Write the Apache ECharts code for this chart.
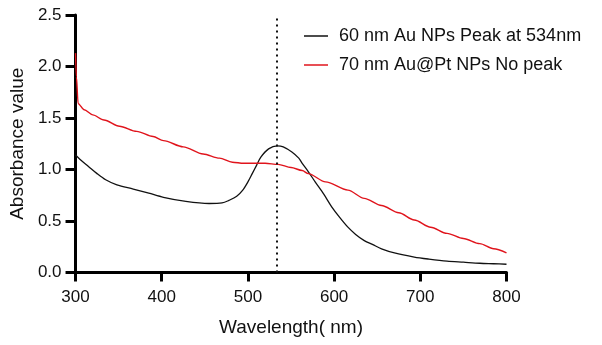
<!DOCTYPE html>
<html><head><meta charset="utf-8">
<script src="https://cdn.jsdelivr.net/npm/echarts@6/dist/echarts.min.js"></script>
<style>html,body{margin:0;padding:0;background:#fff}#c{width:602px;height:345px}</style>
</head><body><div id="c"></div>
<script>
const auX = [300,305,315,325,335,348,367,385,402,428,455,470,478,487,494,500,505,510,515,524,534,541,551,559,563,570,578,588,597,606,616,625,635,645,655,670,693,710,731,750,769,785,800];
const auY = [1.14,1.10,1.03,0.96,0.90,0.85,0.81,0.77,0.73,0.69,0.67,0.675,0.70,0.74,0.80,0.88,0.96,1.04,1.12,1.20,1.23,1.22,1.17,1.11,1.06,0.98,0.88,0.76,0.64,0.54,0.44,0.37,0.31,0.27,0.23,0.19,0.15,0.13,0.11,0.10,0.09,0.085,0.08];
const ptX = [300,301,303,310,320,333,351,371,390,402,425,448,467,482,495,505,520,535,550,563,570,590,616,635,655,675,693,712,731,750,769,785,800];
const ptY = [2.13,1.90,1.64,1.58,1.53,1.48,1.42,1.37,1.32,1.28,1.22,1.15,1.11,1.07,1.06,1.06,1.06,1.05,1.02,0.99,0.96,0.88,0.80,0.72,0.65,0.58,0.51,0.44,0.38,0.33,0.28,0.23,0.19];
const xTicks = [300,400,500,600,700,800];
const peakX = 534;
const names = ['60 nm Au NPs Peak at 534nm','70 nm Au@Pt NPs No peak'];

const font = 'Liberation Sans, Arial, sans-serif';
const chart = echarts.init(document.getElementById('c'), null, {renderer:'canvas'});
chart.setOption({
  animation:false,
  backgroundColor:'#fff',
  grid:{left:72, right:95.5, top:15, bottom:72.5, containLabel:false},
  legend:{
    orient:'vertical', left:299, top:22, itemGap:11,
    itemWidth:24, itemHeight:1.5, icon:'rect',
    textStyle:{fontFamily:font, fontSize:18, color:'#111', padding:[0,0,0,6]},
    data:names
  },
  xAxis:{
    type:'value', min:300, max:800, interval:100,
    name:'Wavelength( nm)', nameLocation:'middle', nameGap:46,
    nameTextStyle:{fontFamily:font, fontSize:19, color:'#111'},
    axisLine:{show:true, lineStyle:{color:'#000', width:3}},
    axisTick:{show:true, length:9, lineStyle:{color:'#000', width:3}},
    axisLabel:{fontFamily:font, fontSize:17, color:'#111', margin:16},
    splitLine:{show:false}
  },
  yAxis:{
    type:'value', min:0, max:2.5, interval:0.5,
    name:'Absorbance value', nameLocation:'middle', nameGap:43,
    nameTextStyle:{fontFamily:font, fontSize:19, color:'#111'},
    axisLine:{show:true, lineStyle:{color:'#000', width:3}},
    axisTick:{show:true, length:10, lineStyle:{color:'#000', width:3}},
    axisLabel:{fontFamily:font, fontSize:17, color:'#111', margin:14, formatter:v=>v.toFixed(1)},
    splitLine:{show:false}
  },
  series:[
    {name:names[0], type:'line', smooth:0.3, symbol:'none',
     lineStyle:{color:'#111', width:1.3}, itemStyle:{color:'#111'},
     data:auX.map((x,i)=>[x,auY[i]]),
     markLine:{silent:true, symbol:'none', label:{show:false},
       lineStyle:{color:'#111', type:[2,4], width:2},
       data:[{xAxis:peakX}]}
    },
    {name:names[1], type:'line', smooth:0.3, smoothMonotone:'x', symbol:'none',
     lineStyle:{color:'#e0141c', width:1.4}, itemStyle:{color:'#e0141c'},
     data:ptX.map((x,i)=>[x,ptY[i]])}
  ]
});
</script></body></html>
